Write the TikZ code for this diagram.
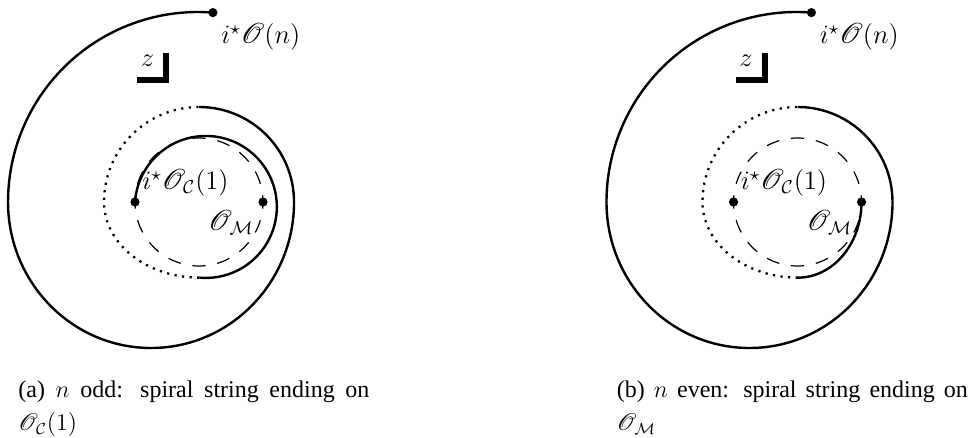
\RequirePackage{fix-cm}
\documentclass[tikz,border=0pt]{standalone}
\usepackage[no-math]{fontspec}
\setmainfont{Liberation Serif}
\usepackage{mathrsfs}
\tikzset{
  solidstr/.style={line width=1.2pt},
  dotstr/.style={line width=1.15pt, dash pattern=on 1.1pt off 2.7pt},
  dashcirc/.style={line width=0.6pt, dash pattern=on 6.6pt off 5.966pt},
  enddot/.style={circle, fill=black, inner sep=0pt, minimum size=4.6pt},
  lbl/.style={inner sep=0pt, font=\fontsize{13.3}{15}\selectfont},
  corner/.style={line width=3pt, miter limit=10},
  captxt/.style={inner sep=0pt, text width=175.5pt, align=justify,
     font=\fontsize{12}{16.5}\selectfont, anchor=base west}
}
\begin{document}
\begin{tikzpicture}[x=0.5pt, y=0.5pt]
\useasboundingbox (0,0) rectangle (973,438);
\tolerance=9999
% ---------------- panel (a)
\draw[dashcirc] (199,236) ++(84.09:64) arc[start angle=84.09, delta angle=360, radius=64];
\node[enddot] (dCa) at (135,236) {};
\node[enddot] (dMa) at (263,236) {};
\node[enddot] (dNa) at (212.9,425.4) {};
\draw[solidstr] (dCa.center) arc[start angle=176, end angle=-95.25, radius=71] coordinate (p1a);
\draw[dotstr] (p1a) arc[start angle=270, end angle=180, x radius=95.3, y radius=75.65]
   arc[start angle=180, end angle=90, radius=95] coordinate (p2a);
\draw[solidstr] (p2a) arc[start angle=90, end angle=0, radius=95]
   arc[start angle=0, end angle=-180, x radius=143, y radius=146]
   arc[start angle=180, end angle=85.5, radius=190] -- (dNa.center);
\node[lbl, anchor=base west] (lNa) at (221,394) {$i^\star\mathscr{O}(n)$};
\node[lbl, anchor=base west] (lCa) at (142,248) {$i^\star\mathscr{O}_{\mathcal{C}}(1)$};
\node[lbl, anchor=base west] (lMa) at (208,207) {$\mathscr{O}_{\mathcal{M}}$};
\node[lbl] (za) at (147.5,377) {$z$};
\draw[corner] (166,385) -- (166,358) -- (137,358);
\node[captxt] (capa) at (18,40) {(a) $n$ odd: spiral string ending on $\mathscr{O}_{\mathcal{C}}(1)$};
% ---------------- panel (b)
\begin{scope}[xshift=299.25pt]
\draw[dashcirc] (199,236) ++(84.09:64) arc[start angle=84.09, delta angle=360, radius=64];
\node[enddot] (dCb) at (135,236) {};
\node[enddot] (dMb) at (263,236) {};
\node[enddot] (dNb) at (212.9,425.4) {};
\draw[solidstr] (dMb.center) arc[start angle=0, end angle=-90, x radius=63.7, y radius=75.65] coordinate (p1b);
\draw[dotstr] (p1b) arc[start angle=270, end angle=180, x radius=95.3, y radius=75.65]
   arc[start angle=180, end angle=90, radius=95] coordinate (p2b);
\draw[solidstr] (p2b) arc[start angle=90, end angle=0, radius=95]
   arc[start angle=0, end angle=-180, x radius=143, y radius=146]
   arc[start angle=180, end angle=85.5, radius=190] -- (dNb.center);
\node[lbl, anchor=base west] (lNb) at (221,394) {$i^\star\mathscr{O}(n)$};
\node[lbl, anchor=base west] (lCb) at (142,248) {$i^\star\mathscr{O}_{\mathcal{C}}(1)$};
\node[lbl, anchor=base west] (lMb) at (208,207) {$\mathscr{O}_{\mathcal{M}}$};
\node[lbl] (zb) at (147.5,377) {$z$};
\draw[corner] (166,385) -- (166,358) -- (137,358);
\node[captxt] (capb) at (18,40) {(b) $n$ even: spiral string ending on $\mathscr{O}_{\mathcal{M}}$};
\end{scope}
\end{tikzpicture}
\end{document}
